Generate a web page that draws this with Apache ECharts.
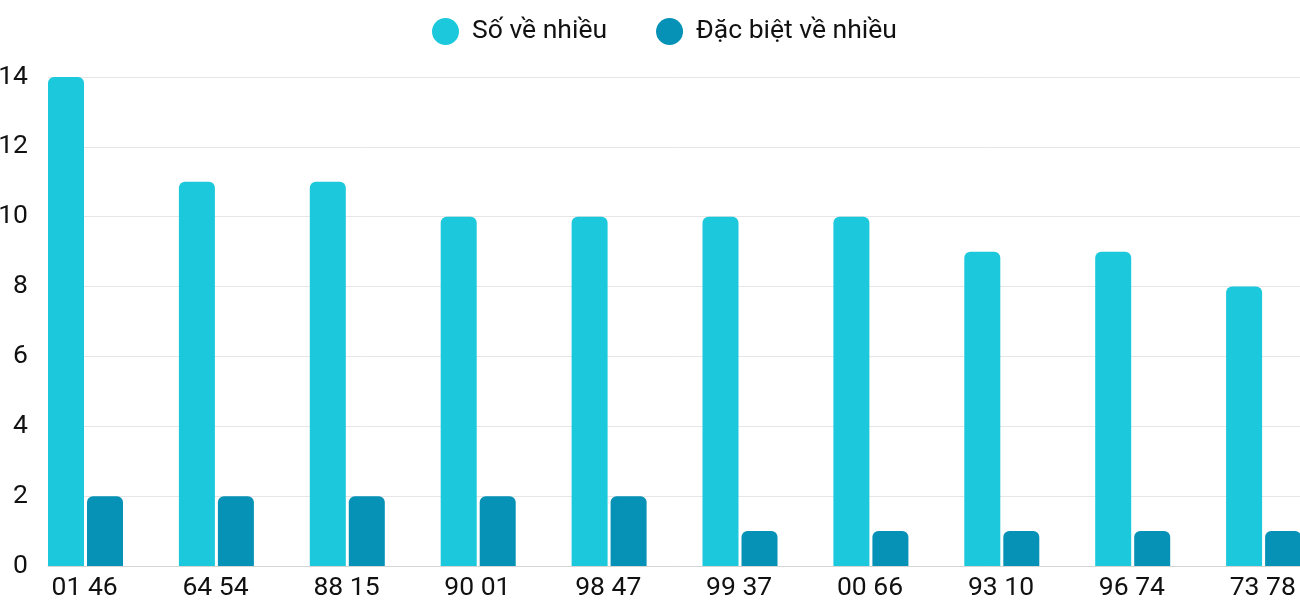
<!DOCTYPE html>
<html>
<head>
<meta charset="utf-8">
<script src="https://cdn.jsdelivr.net/npm/echarts@6/dist/echarts.min.js"></script>
<style>
html,body{margin:0;padding:0;background:#fff;}
#chart{width:1300px;height:600px;}
</style>
</head>
<body>
<div id="chart"></div>
<script>
var categories = ['01 46', '64 54', '88 15', '90 01', '98 47', '99 37', '00 66', '93 10', '96 74', '73 78'];
var soVeNhieu = [14, 11, 11, 10, 10, 10, 10, 9, 9, 8];
var dacBietVeNhieu = [2, 2, 2, 2, 2, 1, 1, 1, 1, 1];
var yTicks = { min: 0, max: 14, interval: 2 };
var seriesNames = ['Số về nhiều', 'Đặc biệt về nhiều'];
var colors = ['#1bc8dc', '#0592b6'];

var chart = echarts.init(document.getElementById('chart'), null, { renderer: 'canvas' });
var font = 'Roboto, "Noto Sans", sans-serif';
var fs = 26.5;
chart.setOption({
  animation: false,
  textStyle: { fontFamily: font },
  legend: {
    data: seriesNames,
    left: 432,
    top: 18,
    padding: 0,
    icon: 'circle',
    itemWidth: 27,
    itemHeight: 27,
    itemGap: 49,
    textStyle: { fontSize: fs, color: '#111', fontFamily: font, padding: [0, 0, 0, 8] }
  },
  grid: { left: 48, top: 77, bottom: 34, right: -57, containLabel: false, outerBoundsMode: 'none' },
  xAxis: {
    type: 'category',
    data: categories,
    axisLine: { show: true, lineStyle: { color: '#d4d4d4', width: 1 } },
    axisTick: { show: false },
    axisLabel: { fontSize: fs, color: '#111', margin: 9, fontFamily: font, padding: [0, 57.6, 0, 0], interval: 0 }
  },
  yAxis: {
    type: 'value',
    min: yTicks.min,
    max: yTicks.max,
    interval: yTicks.interval,
    axisLine: { show: false },
    axisTick: { show: false },
    axisLabel: { fontSize: fs, color: '#111', margin: 20, fontFamily: font },
    splitLine: { lineStyle: { color: '#e6e6e6', width: 1 } }
  },
  series: [
    {
      name: seriesNames[0], type: 'bar', data: soVeNhieu,
      barWidth: 36, barGap: '8.33%',
      itemStyle: { color: colors[0], borderRadius: [6, 6, 0, 0] }
    },
    {
      name: seriesNames[1], type: 'bar', data: dacBietVeNhieu,
      barWidth: 36, barGap: '8.33%',
      itemStyle: { color: colors[1], borderRadius: [6, 6, 0, 0] }
    },
    {
      name: 'spacer', type: 'bar', data: [],
      barWidth: 52.9, barGap: '8.33%', silent: true,
      itemStyle: { color: 'rgba(0,0,0,0)' }
    }
  ]
});
</script>
</body>
</html>
